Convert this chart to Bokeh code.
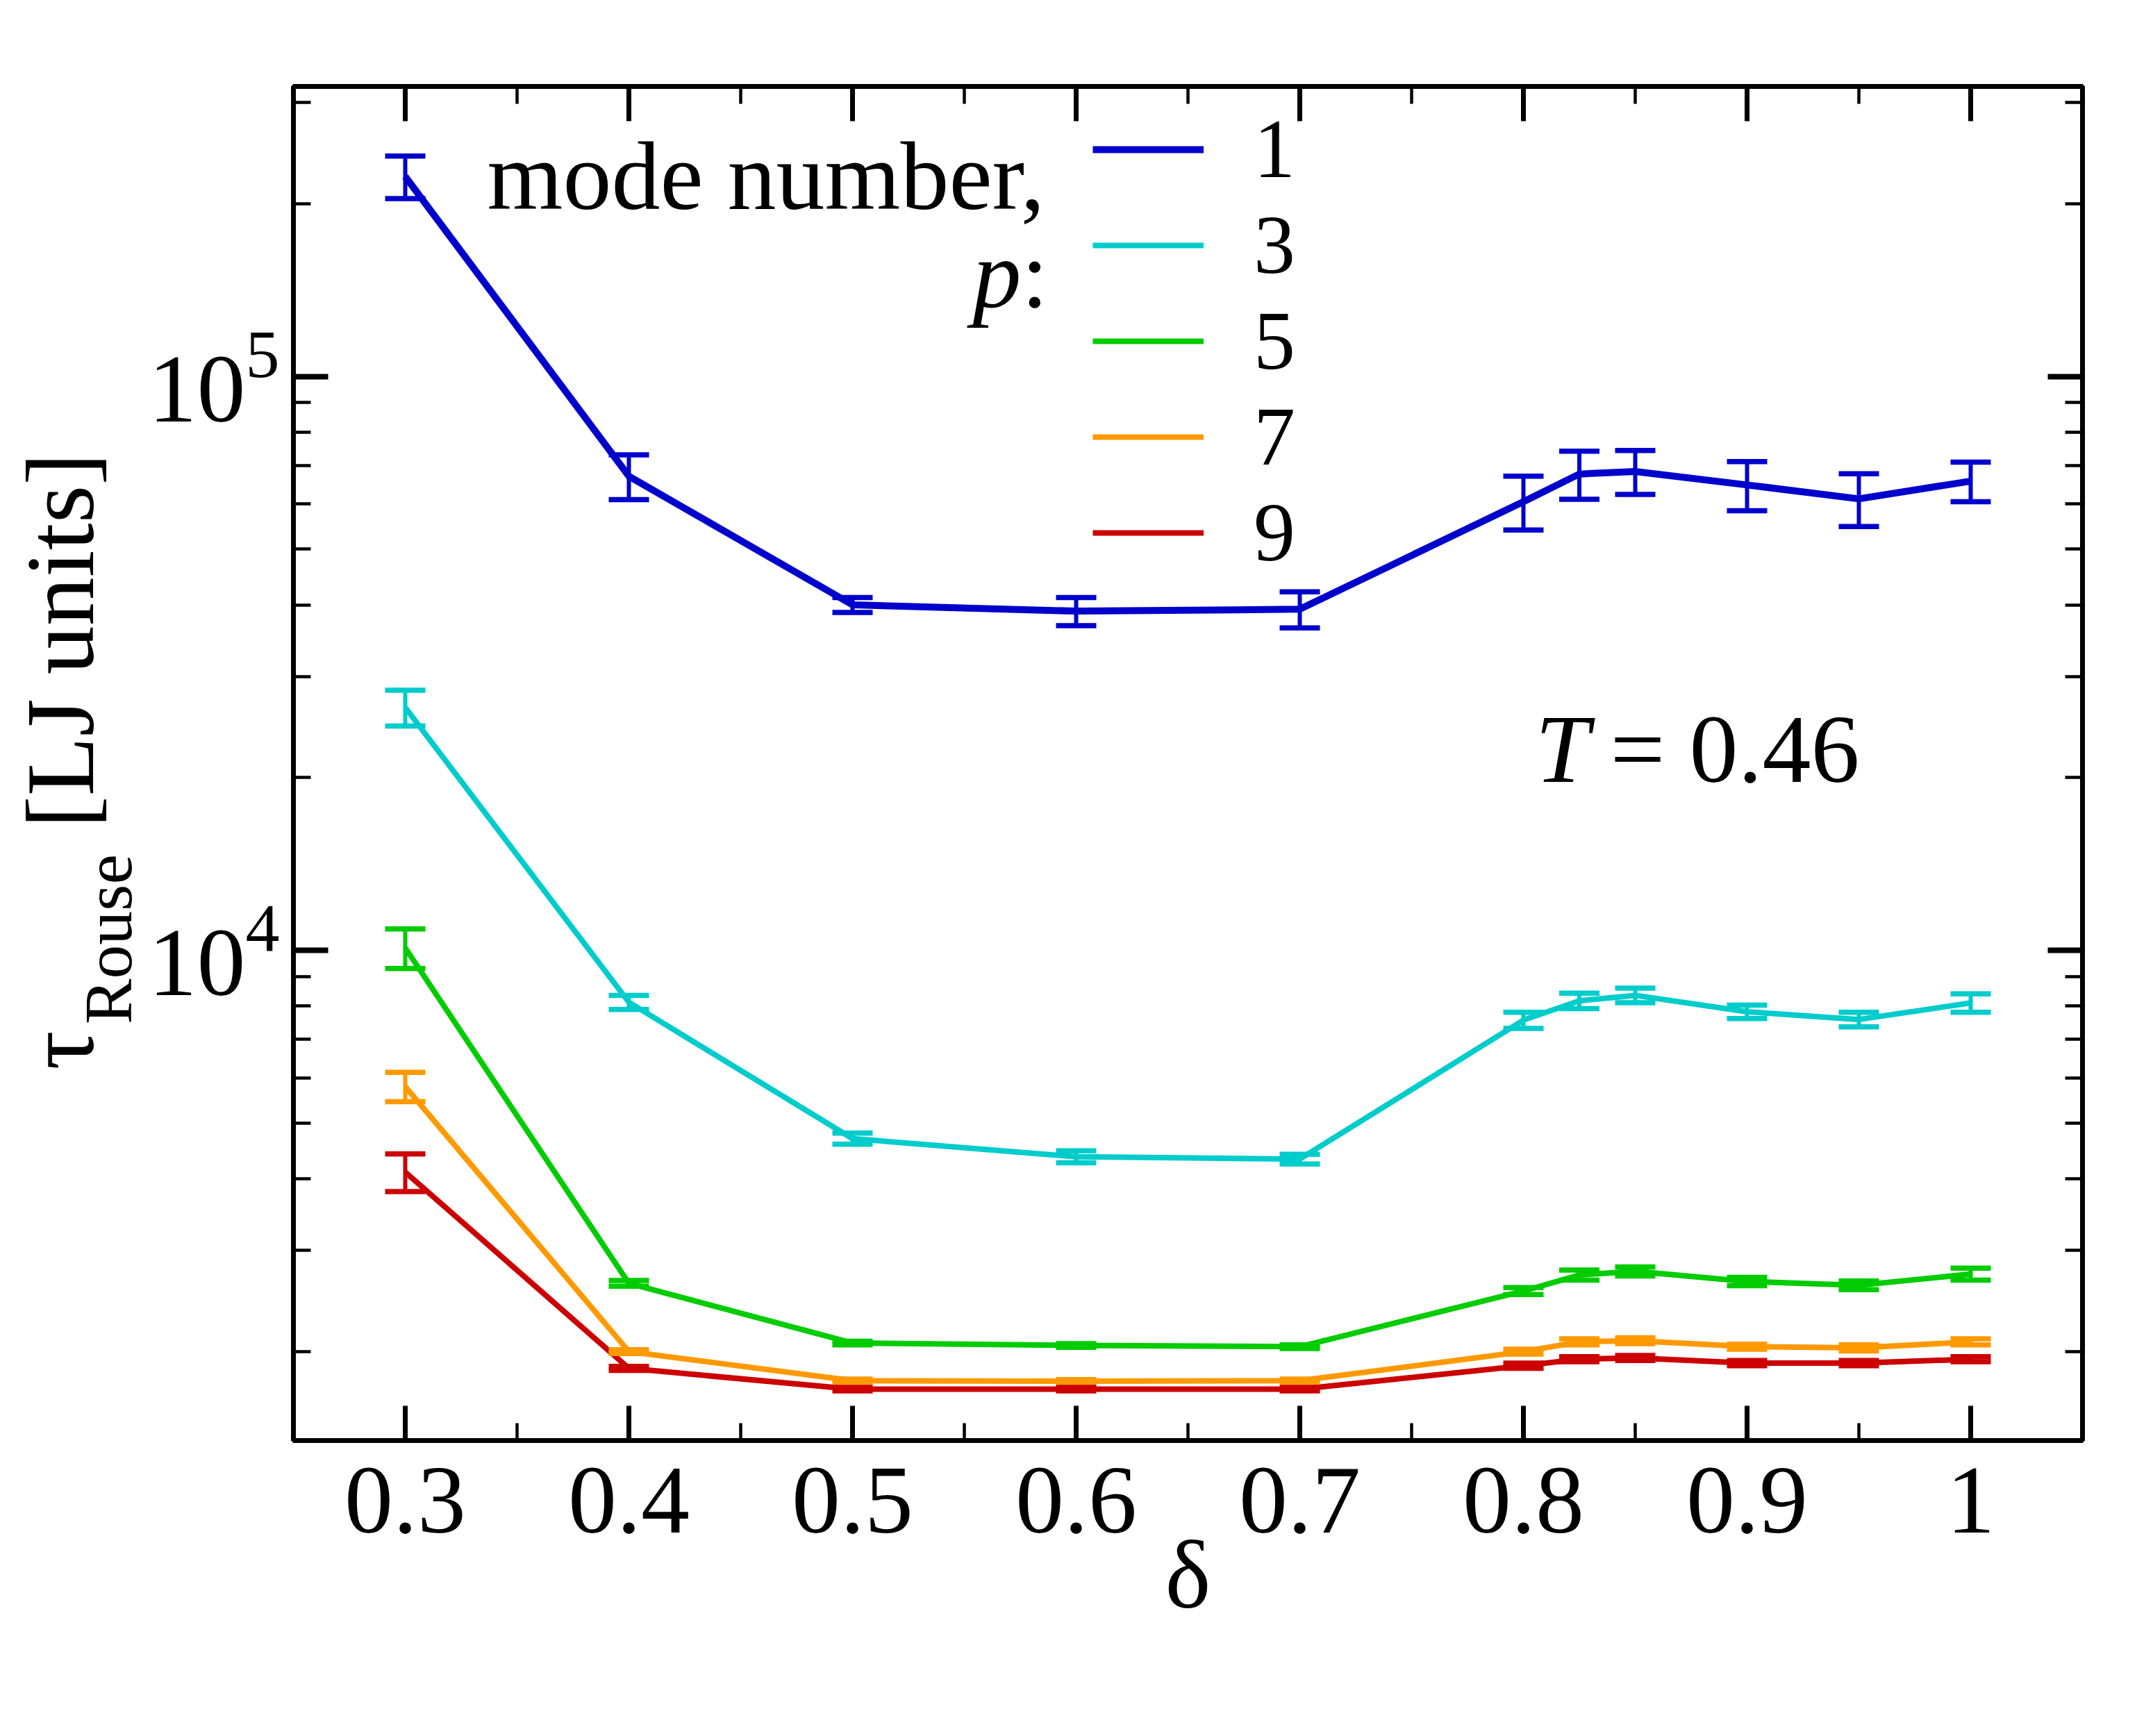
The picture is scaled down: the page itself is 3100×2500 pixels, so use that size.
import math
from bokeh.plotting import figure
from bokeh.layouts import row
from bokeh.core.properties import value
from bokeh.models import (ColumnDataSource, Whisker, TeeHead, Legend, LegendItem, Label,
                          LinearAxis, LogAxis, SingleIntervalTicker, LogTicker,
                          NumeralTickFormatter, CustomJSTickFormatter, Range1d)
from bokeh.embed import file_html
from bokeh.resources import INLINE

# ---------------- data ----------------
delta = [0.3, 0.4, 0.5, 0.6, 0.7, 0.8, 0.825, 0.85, 0.9, 0.95, 1.0]
modes = ["1", "3", "5", "7", "9"]
colors = ["#0000cc", "#00cccc", "#00cc00", "#ff9900", "#cc0000"]

tau_p1 = [2.23e5, 6.70e4, 4.00e4, 3.90e4, 3.93e4, 6.05e4, 6.76e4, 6.83e4, 6.47e4, 6.12e4, 6.57e4]
err_p1 = [1.9e4, 6.0e3, 1.2e3, 2.2e3, 2.85e3, 6.5e3, 6.5e3, 6.0e3, 6.35e3, 6.45e3, 5.2e3]

tau_p3 = [2.65e4, 8.12e3, 4.70e3, 4.37e3, 4.33e3, 7.56e3, 8.17e3, 8.35e3, 7.82e3, 7.58e3, 8.10e3]
err_p3 = [1.9e3, 230, 105, 105, 85, 245, 255, 245, 210, 220, 300]

tau_p5 = [1.01e4, 2.63e3, 2.07e3, 2.05e3, 2.04e3, 2.55e3, 2.72e3, 2.76e3, 2.65e3, 2.61e3, 2.73e3]
err_p5 = [800, 30, 15, 15, 15, 35, 55, 50, 45, 45, 65]

tau_p7 = [5.79e3, 2.00e3, 1.78e3, 1.776e3, 1.78e3, 2.00e3, 2.08e3, 2.09e3, 2.04e3, 2.03e3, 2.08e3]
err_p7 = [340, 15, 12, 12, 12, 20, 25, 25, 20, 25, 25]

tau_p9 = [4.11e3, 1.87e3, 1.72e3, 1.72e3, 1.72e3, 1.89e3, 1.94e3, 1.95e3, 1.91e3, 1.91e3, 1.94e3]
err_p9 = [310, 15, 12, 12, 12, 20, 20, 20, 20, 20, 20]

x_ticks_interval = 0.1
x_limits = (0.25, 1.05)
y_limits = (1400, 3.2e5)

FONT = "Liberation Serif"
TOTAL_W, TOTAL_H = 3100, 2500
LEFT_W = 200
FRAME_TOP, FRAME_BOTTOM = 124, 2074

# ---------------- y-axis title strip (left) ----------------
# its frame is aligned with the main frame, so map page pixels directly
pl = figure(width=LEFT_W, height=TOTAL_H, x_range=Range1d(0, LEFT_W),
            y_range=Range1d(TOTAL_H - FRAME_BOTTOM, TOTAL_H - FRAME_TOP),
            output_backend="svg", toolbar_location=None, x_axis_location=None, y_axis_location=None,
            min_border=0, min_border_left=0, min_border_right=0, min_border_top=0, min_border_bottom=0)
pl.outline_line_color = None
pl.grid.visible = False
pl.background_fill_color = "white"
pl.border_fill_color = "white"


def vtext(fig, txt, x, y_page, size):
    fig.text(x=[x], y=[TOTAL_H - y_page], text=[txt], angle=math.pi / 2, text_font=value(FONT),
             text_font_size=size, text_align="center", text_baseline="middle",
             text_color="black")


vtext(pl, "τ", 86, 1512, "140px")
vtext(pl, "Rouse", 155, 1352, "98px")
vtext(pl, "[LJ units]", 86, 922, "140px")

# ---------------- main figure ----------------
p = figure(width=TOTAL_W - LEFT_W, height=TOTAL_H, x_range=Range1d(*x_limits), y_range=Range1d(*y_limits),
           y_axis_type="log", output_backend="svg", toolbar_location=None,
           min_border_left=422 - LEFT_W, min_border_right=102,
           min_border_top=FRAME_TOP, min_border_bottom=TOTAL_H - FRAME_BOTTOM)
p.background_fill_color = "white"
p.border_fill_color = "white"
p.outline_line_color = "black"
p.outline_line_width = 7
p.xgrid.visible = False
p.ygrid.visible = False

bottom_axis = p.below[0]
left_axis = p.left[0]

xticker = SingleIntervalTicker(interval=x_ticks_interval, num_minor_ticks=2)
bottom_axis.ticker = xticker
bottom_axis.formatter = NumeralTickFormatter(format="0.[0]")

top_axis = LinearAxis(ticker=xticker, formatter=CustomJSTickFormatter(code="return ''"))
right_axis = LogAxis(ticker=LogTicker(num_minor_ticks=10), formatter=CustomJSTickFormatter(code="return ''"))
p.add_layout(top_axis, "above")
p.add_layout(right_axis, "right")


def style_axis(ax, major_w):
    ax.axis_line_width = 7
    ax.axis_line_color = "black"
    ax.major_tick_in = 50
    ax.major_tick_out = 0
    ax.minor_tick_in = 25
    ax.minor_tick_out = 0
    ax.major_tick_line_width = major_w
    ax.minor_tick_line_width = 4.5
    ax.major_tick_line_color = "black"
    ax.minor_tick_line_color = "black"
    ax.major_label_text_font = FONT
    ax.major_label_text_font_size = "140px"
    ax.major_label_text_color = "black"


style_axis(bottom_axis, 7)
style_axis(top_axis, 7)
style_axis(left_axis, 8)
style_axis(right_axis, 8)
top_axis.major_label_text_font_size = "1px"
right_axis.major_label_text_font_size = "1px"

bottom_axis.major_label_standoff = 40
left_axis.major_label_standoff = 20
bottom_axis.axis_label = "δ"
bottom_axis.axis_label_text_font = FONT
bottom_axis.axis_label_text_font_size = "140px"
bottom_axis.axis_label_text_font_style = "normal"
bottom_axis.axis_label_text_color = "black"
bottom_axis.axis_label_standoff = -20

# ---------------- series ----------------
series = [(tau_p1, err_p1), (tau_p3, err_p3), (tau_p5, err_p5), (tau_p7, err_p7), (tau_p9, err_p9)]
line_widths = [10, 8, 8, 8, 8]
renderers = []
for mode, col, lw, (tau, err) in zip(modes, colors, line_widths, series):
    lo = [t - e for t, e in zip(tau, err)]
    hi = [t + e for t, e in zip(tau, err)]
    src = ColumnDataSource(dict(x=delta, y=tau, lo=lo, hi=hi))
    r = p.line("x", "y", source=src, line_color=col, line_width=lw)
    w = Whisker(base="x", lower="lo", upper="hi", source=src, dimension="height",
                line_color=col, line_width=6, level="glyph",
                upper_head=TeeHead(size=58, line_color=col, line_width=7.5),
                lower_head=TeeHead(size=58, line_color=col, line_width=7.5))
    p.add_layout(w)
    renderers.append(r)

legend = Legend(items=[LegendItem(label=m, renderers=[r]) for m, r in zip(modes, renderers)],
                location=(1151, 1238), orientation="vertical",
                label_text_font=FONT, label_text_font_size="120px", label_text_color="black",
                glyph_width=160, glyph_height=130, label_height=130, label_standoff=72,
                spacing=-4, padding=0, margin=0,
                border_line_alpha=0, background_fill_alpha=0)
p.add_layout(legend)


def lab(text, x, y_base, size, style="normal", align="left"):
    # y_base: baseline height above frame bottom; label is anchored at its middle
    p.add_layout(Label(x=x, y=y_base + 48, x_units="screen", y_units="screen", text=text,
                       text_font=FONT, text_font_size=size, text_font_style=style,
                       text_align=align, text_baseline="middle", text_color="black"))


# legend title text
lab("mode number,", 279, 1773, "140px")
lab("p", 1048, 1632, "140px", style="italic", align="right")
lab(":", 1048, 1632, "140px")

# temperature annotation
lab("T", 1788, 948, "140px", style="italic")
lab("= 0.46", 1896, 948, "140px")

layout = row(pl, p, spacing=0)
open("out.html", "w").write(file_html(layout, INLINE))
